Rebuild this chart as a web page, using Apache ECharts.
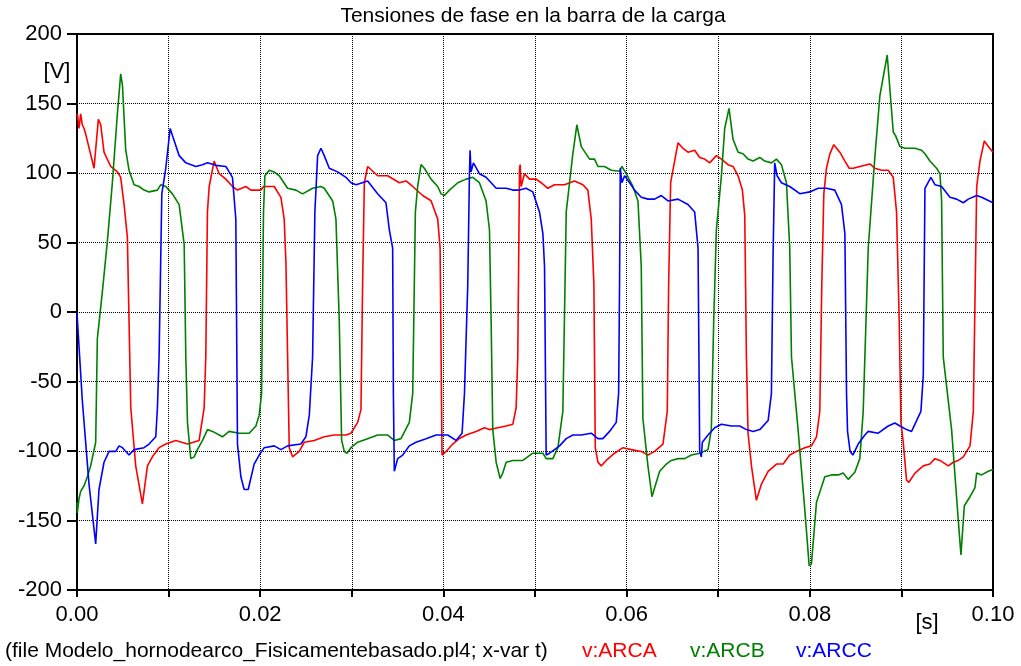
<!DOCTYPE html>
<html>
<head>
<meta charset="utf-8">
<title>Tensiones de fase en la barra de la carga</title>
<script src="https://cdn.jsdelivr.net/npm/echarts@6/dist/echarts.min.js"></script>
<style>
  body { margin: 0; background: #fff; }
  #chart { width: 1021px; height: 666px; }
</style>
</head>
<body>
<div id="chart"></div>
<script>
// time in ms, voltage in V
var arca = [
  [0,141],[0.04,142.6],[0.22,132],[0.4,142.6],[0.58,134.7],[0.77,132],[0.95,128],[1.86,103.4],[2.33,138.6],[2.59,134.7],
  [2.95,115],[3.68,104.7],[4.41,100.8],[4.77,96.9],[5.14,77.3],[5.5,53.8],[5.68,-6.3],[5.87,-68.9],[6.41,-110.7],[7.14,-138.1],
  [7.69,-110.7],[8.23,-104.2],[8.96,-97.6],[9.69,-95],[10.78,-92.4],[12.06,-95],[13.33,-92.4],[13.88,-68.9],[14.06,-32.4],[14.24,72],
  [14.43,90.3],[14.97,108.6],[15.52,99.5],[16.25,95.6],[16.97,90.3],[17.52,87.7],[18.43,90.3],[18.98,87.7],[20.07,87.7],[20.36,90.3],
  [21.53,90.3],[22.26,82.5],[22.62,66.8],[22.81,35.5],[23.17,-97.6],[23.53,-104.2],[24.26,-100.3],[24.81,-93.7],[25.9,-92.4],[26.99,-89.8],
  [28.09,-88.5],[29.36,-88.5],[29.91,-87.2],[30.64,-79.4],[31.0,-70.2],[31.18,19.8],[31.37,93],[31.73,104.7],[32.82,98],[33.92,98],
  [35.19,93],[35.92,94.3],[36.65,90.3],[37.74,83.8],[38.65,80],[39.38,66.8],[39.64,46],[39.75,-32.4],[39.85,-102.9],[40.29,-100.3],
  [41.02,-95],[41.75,-91],[42.48,-88.5],[43.57,-85.9],[44.48,-83.3],[45.03,-84.6],[45.94,-83.3],[46.85,-82],[47.58,-80.7],[47.94,-68.9],
  [48.12,-32.4],[48.31,103.4],[48.38,106],[48.49,90.3],[48.85,99.5],[49.4,95.6],[50.13,95.6],[50.67,93],[51.4,89],[52.13,91.6],
  [53.22,91.6],[54.32,94.3],[55.23,91.6],[55.77,87.7],[56.14,66.8],[56.43,19.8],[56.58,-97.6],[56.87,-108],[57.23,-110.7],[57.78,-106.8],
  [58.69,-101.6],[59.6,-97.6],[60.51,-99],[61.6,-100.3],[62.33,-102.9],[63.06,-100.3],[63.97,-95],[64.44,-71.5],[64.59,19.8],[64.81,93],
  [65.06,102],[65.61,121.7],[66.16,117.8],[66.7,115],[67.43,116.4],[67.98,111.2],[68.52,110],[69.07,107.3],[69.8,112.5],[70.35,110],
  [71.07,106],[71.62,104.7],[72.17,98],[72.64,87.7],[72.9,69.5],[73.08,-32.4],[73.26,-87.2],[73.63,-110.7],[74.17,-135.5],[74.72,-123.8],
  [75.45,-114.6],[76.36,-109.4],[77.09,-109.4],[77.81,-102.9],[78.54,-100.3],[79.45,-97.6],[80.18,-96.3],[80.73,-89.8],[81.09,-71.5],[81.31,19.8],
  [81.53,85],[81.82,103.4],[82.19,113.8],[82.62,120.4],[83.28,115],[83.83,108.6],[84.3,103.4],[84.74,103.4],[85.46,104.7],[86.56,106.5],
  [87.1,103.4],[87.83,102],[88.56,102],[89.11,96.9],[89.47,72],[89.76,-6.3],[89.95,-79.4],[90.2,-93.7],[90.56,-121],[90.82,-122.5],
  [91.48,-115.9],[92.39,-110.7],[93.11,-109.4],[93.66,-105.5],[94.21,-106.8],[95.12,-110.7],[95.66,-108.1],[96.21,-106.8],[96.76,-104.2],[97.49,-96.3],
  [97.85,-71.5],[98.22,90.3],[98.58,108.6],[99.05,123],[99.49,119],[100,115]
];
var arcb = [
  [0,-136.8],[0.04,-144.6],[0.22,-134.2],[0.4,-129],[0.77,-125],[1.13,-118.5],[1.49,-110.7],[2.04,-93.7],[2.22,-19.3],[2.77,14.6],
  [3.32,51.2],[3.86,93],[4.41,142.6],[4.77,171.3],[4.96,163.4],[5.32,116.4],[5.68,102],[6.23,91.6],[6.78,90.3],[7.32,87.7],
  [7.87,86.4],[8.78,87.7],[9.15,91.6],[9.69,90.3],[10.42,85],[11.15,77.3],[11.7,48.6],[11.88,-32.4],[12.06,-79.4],[12.42,-105.5],
  [12.79,-104.2],[13.15,-99],[13.7,-92.4],[14.25,-84.6],[14.79,-85.9],[15.88,-89.8],[16.61,-85.9],[17.7,-87.2],[18.8,-87.2],[19.53,-82],
  [19.89,-74.2],[20.15,-58.5],[20.36,72],[20.51,98],[20.98,102],[21.53,100.8],[22.08,98],[22.99,89],[23.9,87.7],[24.63,85],
  [25.72,89],[26.63,90.3],[26.99,89],[27.91,79.9],[28.27,66.8],[28.63,-6.3],[28.89,-92.4],[29.18,-100.3],[29.47,-101.6],[29.91,-97.6],
  [30.64,-93.7],[31.73,-91.1],[32.82,-88.5],[33.92,-88.5],[34.64,-92.4],[35.37,-91.1],[36.28,-79.4],[36.65,-58.5],[36.94,72],[37.19,90.3],
  [37.56,106],[37.92,103.4],[38.65,95.6],[39.38,90.3],[39.75,85],[40.11,83.8],[40.66,87.7],[41.57,93],[42.48,95.6],[43.21,96.9],
  [43.93,93],[44.66,79.9],[45.03,59],[45.21,-6.3],[45.39,-84.6],[45.76,-108.1],[46.19,-119.8],[46.48,-115.9],[46.85,-108.1],[47.58,-106.8],
  [48.67,-106.8],[49.76,-101.6],[50.86,-101.6],[51.22,-105.5],[51.95,-105.5],[52.5,-97.6],[53.04,-71.5],[53.41,72],[53.77,93],[54.13,113.8],
  [54.57,134.7],[55.05,119],[55.96,110],[56.5,110],[56.87,104.7],[57.6,104.7],[58.32,102],[59.23,101.3],[59.49,104.7],[59.96,99.5],
  [60.69,90.3],[61.24,79.9],[61.6,32.9],[61.78,-76.8],[62.33,-110.7],[62.77,-132.9],[63.06,-126.4],[63.61,-114.6],[64.34,-109.4],[64.88,-106.8],
  [65.61,-105.5],[66.34,-105.5],[67.07,-102.9],[67.98,-101.6],[68.16,-102.9],[68.89,-99],[69.25,-84.6],[69.51,-6.3],[69.8,59],[70.35,98],
  [70.71,132],[71.18,146.5],[71.62,124.3],[72.17,115],[72.71,113.8],[73.26,110],[73.81,108.6],[74.54,111.2],[75.08,108.6],[75.81,107.3],
  [76.36,110],[76.9,106],[77.45,93],[77.81,46],[78.0,-32.4],[78.72,-84.6],[79.45,-142],[79.93,-182.5],[80.18,-181.2],[80.73,-136.8],
  [81.64,-118.5],[82.37,-117.2],[83.1,-117.2],[83.64,-115.9],[84.19,-120.4],[84.92,-115.3],[85.46,-105.5],[85.83,-71.5],[86.38,46],[87.1,111.2],
  [87.65,155.6],[88.45,184.9],[89.11,129.5],[89.36,126.9],[89.84,119],[90.38,117.8],[91.48,117.8],[92.2,116.4],[92.57,113.8],[93.11,108.6],
  [93.84,103.4],[94.21,99.5],[94.39,79.9],[94.57,-32.4],[95.48,-84.6],[96.21,-149.9],[96.5,-174.7],[96.87,-139.4],[97.49,-132.9],[98.03,-126.4],
  [98.22,-115.9],[98.76,-117.2],[99.49,-114.6],[100,-113.3]
];
var arcc = [
  [0,-1],[0.58,-63.7],[1.31,-123.8],[2.04,-166.8],[2.4,-127.7],[2.59,-127.7],[2.95,-108.1],[3.5,-100.3],[4.23,-100.3],[4.59,-96.3],
  [4.96,-97.6],[5.68,-102.9],[6.23,-99],[7.32,-97.6],[7.87,-95],[8.6,-89.8],[8.78,-68.9],[8.96,-32.4],[9.26,85],[9.69,103.4],
  [10.17,132],[10.42,126.9],[11.15,112.5],[11.88,107.3],[12.97,104.7],[13.7,106],[14.25,107.3],[15.16,105.5],[16.25,104.7],[16.61,100.8],
  [16.97,96.9],[17.34,66.8],[17.52,-95],[17.89,-118.5],[18.25,-127.7],[18.69,-127.7],[19.34,-109.4],[19.89,-102.9],[20.44,-97.6],[21.53,-96.3],
  [22.26,-99],[22.99,-96.3],[24.44,-95],[24.99,-89.8],[25.36,-74.2],[25.72,-32.4],[25.97,72],[26.27,112.5],[26.63,117.8],[26.99,112.5],
  [27.54,103.4],[28.45,100.8],[29.36,96.9],[29.91,93],[30.46,91.6],[31.73,94.3],[32.82,85.1],[33.73,78.6],[34.1,59],[34.46,46],
  [34.54,-58.5],[34.64,-114.6],[35.01,-105.5],[35.56,-102.9],[36.28,-96.3],[37.01,-93.7],[38.11,-91.1],[39.2,-88.5],[40.47,-88.5],[41.38,-92.4],
  [42.04,-87.2],[42.3,-58.5],[42.66,19.8],[42.84,98],[42.91,116.4],[43.02,100.8],[43.28,107.3],[43.93,99.5],[44.66,96.9],[45.76,89],
  [46.85,89],[47.58,87.7],[48.31,87.7],[49.03,89],[49.76,86.4],[50.49,72],[50.86,56.4],[51.04,32.9],[51.22,-102.9],[51.58,-101.6],
  [52.13,-99],[52.68,-96.3],[53.41,-91.1],[54.13,-88.5],[55.05,-88.5],[56.14,-87.2],[56.87,-91.1],[57.41,-91.1],[58.14,-85.9],[58.87,-79.4],
  [59.13,-58.5],[59.23,19.8],[59.31,103.4],[59.49,93],[59.78,98],[60.33,93],[60.87,87.7],[61.6,82.5],[62.33,81.2],[63.06,81.2],
  [63.79,83.8],[64.52,79.9],[65.61,81.2],[66.7,77.3],[67.43,72],[67.8,46],[67.98,-100.3],[68.16,-104.2],[68.27,-93.7],[68.89,-88.5],
  [69.62,-83.3],[70.35,-80.7],[71.44,-82],[72.35,-82],[73.08,-84.6],[73.81,-85.9],[74.54,-84.6],[75.45,-78.1],[75.81,-58.5],[75.99,40.7],
  [76.17,107.3],[76.43,98],[76.9,93],[77.81,90.3],[78.91,85.1],[80.0,86.4],[80.91,89],[81.82,89],[82.73,87.7],[83.46,77.3],
  [83.83,56.4],[84.01,-58.5],[84.12,-85.9],[84.4,-100.3],[84.7,-102.9],[85.28,-95],[86.01,-88.5],[86.38,-85.9],[87.47,-87.2],[88.56,-82],
  [89.29,-79.9],[89.84,-82],[90.57,-84.6],[91.11,-85.9],[91.66,-78.1],[92.13,-71.5],[92.39,-45.4],[92.57,89],[92.75,90.3],[93.22,96.9],
  [93.66,91.6],[94.39,90.3],[95.3,82.5],[96.03,81.2],[96.76,78.6],[97.3,81.2],[98.22,83.8],[98.76,82.5],[100,78.6]
];

var seriesNames = ['v:ARCA', 'v:ARCB', 'v:ARCC'];
var seriesColors = ['#ff0000', '#008000', '#0000ff'];
var titleText = 'Tensiones de fase en la barra de la carga';
var fileText = '(file Modelo_hornodearco_Fisicamentebasado.pl4; x-var t)';

var font = '"Liberation Sans", Arial, sans-serif';

function toSeconds(pts) {
  return pts.map(function (p) { return [p[0] / 1000, p[1]]; });
}

var dom = document.getElementById('chart');
var myChart = echarts.init(dom);
var option = {
  animation: false,
  backgroundColor: '#fff',
  grid: {
    left: 77, right: 28, top: 34, bottom: 76,
    show: true, borderColor: '#000', borderWidth: 2
  },
  xAxis: {
    type: 'value',
    min: 0, max: 0.1, interval: 0.01,
    axisLine: { show: true, onZero: false, lineStyle: { color: '#000', width: 2 } },
    axisTick: { show: true, inside: false, length: 7, lineStyle: { color: '#000', width: 2 } },
    splitLine: { show: true, lineStyle: { color: '#000', width: 1, type: [1, 1] } },
    axisLabel: {
      color: '#000', fontSize: 22, fontFamily: font, margin: 14,
      formatter: function (v) {
        return Math.round(v * 100) % 2 === 0 ? v.toFixed(2) : '';
      }
    }
  },
  yAxis: {
    type: 'value',
    min: -200, max: 200, interval: 50,
    axisLine: { show: true, onZero: false, lineStyle: { color: '#000', width: 2 } },
    axisTick: { show: true, inside: false, length: 10, lineStyle: { color: '#000', width: 2 } },
    splitLine: { show: true, lineStyle: { color: '#000', width: 1, type: [1, 1] } },
    axisLabel: { color: '#000', fontSize: 22, fontFamily: font, margin: 15 }
  },
  graphic: [
    { type: 'text', x: 533, y: 16, style: { text: titleText, fill: '#000', fontSize: 21, fontFamily: font, align: 'center', verticalAlign: 'middle' } },
    { type: 'text', x: 57, y: 72, style: { text: '[V]', fill: '#000', fontSize: 22, fontFamily: font, align: 'center', verticalAlign: 'middle' } },
    { type: 'text', x: 927, y: 623, style: { text: '[s]', fill: '#000', fontSize: 22, fontFamily: font, align: 'center', verticalAlign: 'middle' } },
    { type: 'text', x: 5, y: 651, style: { text: fileText, fill: '#000', fontSize: 21, fontFamily: font, align: 'left', verticalAlign: 'middle' } },
    { type: 'text', x: 582, y: 651, style: { text: seriesNames[0], fill: seriesColors[0], fontSize: 21, fontFamily: font, align: 'left', verticalAlign: 'middle' } },
    { type: 'text', x: 690, y: 651, style: { text: seriesNames[1], fill: seriesColors[1], fontSize: 21, fontFamily: font, align: 'left', verticalAlign: 'middle' } },
    { type: 'text', x: 796, y: 651, style: { text: seriesNames[2], fill: seriesColors[2], fontSize: 21, fontFamily: font, align: 'left', verticalAlign: 'middle' } }
  ],
  series: [
    { name: seriesNames[0], type: 'line', data: toSeconds(arca), showSymbol: false, symbol: 'none', lineStyle: { color: seriesColors[0], width: 1.6 } },
    { name: seriesNames[1], type: 'line', data: toSeconds(arcb), showSymbol: false, symbol: 'none', lineStyle: { color: seriesColors[1], width: 1.6 } },
    { name: seriesNames[2], type: 'line', data: toSeconds(arcc), showSymbol: false, symbol: 'none', lineStyle: { color: seriesColors[2], width: 1.6 } }
  ]
};
myChart.setOption(option);
</script>
</body>
</html>
